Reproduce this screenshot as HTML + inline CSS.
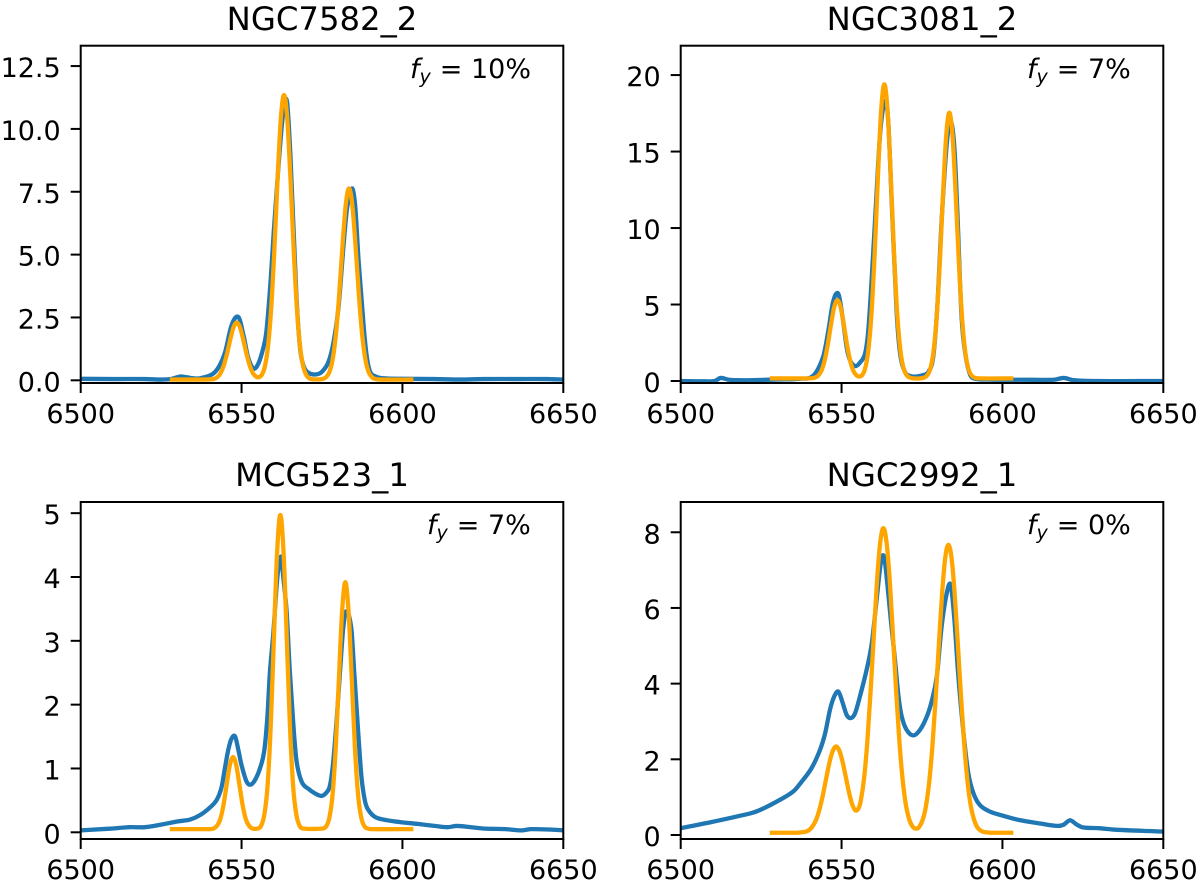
<!DOCTYPE html>
<html lang="en">
<head>
<meta charset="utf-8">
<title>Emission line spectra</title>
<style>
html,body{margin:0;padding:0;background:#fff;width:1200px;height:884px;overflow:hidden}
svg{display:block}
text{font-family:"DejaVu Sans","Liberation Sans",sans-serif;fill:#000}
</style>
</head>
<body>
<svg id="figure" xmlns="http://www.w3.org/2000/svg" width="1200" height="884" viewBox="0 0 1200 884"></svg>
<script>
const xTickValues = [6500, 6550, 6600, 6650];
const xDomain = [6500, 6650];

const titles = ['NGC7582_2', 'NGC3081_2', 'MCG523_1', 'NGC2992_1'];
const fractions = ['10%', '7%', '7%', '0%'];

const yTickValuesA = [0, 2.5, 5, 7.5, 10, 12.5];
const yTickLabelsA = ['0.0', '2.5', '5.0', '7.5', '10.0', '12.5'];
const yTickValuesB = [0, 5, 10, 15, 20];
const yTickLabelsB = ['0', '5', '10', '15', '20'];
const yTickValuesC = [0, 1, 2, 3, 4, 5];
const yTickLabelsC = ['0', '1', '2', '3', '4', '5'];
const yTickValuesD = [0, 2, 4, 6, 8];
const yTickLabelsD = ['0', '2', '4', '6', '8'];

const yDomainA = [-0.107, 13.31];
const yDomainB = [-0.13, 21.92];
const yDomainC = [-0.105, 5.175];
const yDomainD = [-0.106, 8.8];

const observedWaveA = [6500,6510,6520,6525,6528,6531,6533,6535,6537,6541,6543,6544.9,6546.9,6549,6550.6,6552,6553.7,6555.2,6556.7,6557.7,6559,6560,6561.4,6562.9,6564.1,6565.2,6567,6568.2,6569.4,6570.8,6572.8,6574.9,6577,6578.6,6580.1,6581.7,6582.8,6584.3,6585.3,6586.4,6588,6589,6590,6591.7,6594,6600,6610,6618,6625,6635,6645,6650];
const observedFluxA = [0.06,0.05,0.05,0.03,0.05,0.15,0.12,0.08,0.08,0.25,0.55,1.13,2.19,2.52,1.79,0.93,0.47,0.66,1.26,1.92,3.9,5.9,8.4,10.6,11.1,8.9,3.5,1.26,0.53,0.3,0.23,0.33,0.73,1.53,2.86,5.37,6.85,7.63,6.96,4.7,2.07,0.87,0.33,0.15,0.08,0.06,0.05,0.03,0.05,0.05,0.05,0.03];
const modelWaveA = [6527.7,6538,6540.5,6541.5,6542.5,6543.5,6544.5,6545.5,6546.5,6547.5,6548.5,6549.5,6550.5,6551.5,6552.5,6553.5,6554.5,6555.2,6556.2,6557.2,6558.2,6559.2,6560.2,6561.2,6562.2,6563.2,6564.2,6565.2,6566.2,6567.2,6568.2,6569.2,6570.2,6571.2,6572.2,6574.4,6575.4,6576.4,6577.4,6578.4,6579.4,6580.4,6581.4,6582.4,6583.4,6584.4,6585.4,6586.4,6587.4,6588.4,6589.4,6590.4,6591.4,6593,6603.4];
const modelFluxA = [0.03,0.03,0.04,0.06,0.13,0.29,0.60,1.07,1.63,2.11,2.30,2.11,1.63,1.07,0.60,0.29,0.15,0.12,0.20,0.53,1.32,2.85,5.21,8.02,10.41,11.35,10.41,8.02,5.21,2.85,1.32,0.53,0.19,0.07,0.04,0.04,0.06,0.14,0.36,0.90,1.92,3.51,5.40,7.00,7.63,7.00,5.40,3.51,1.92,0.90,0.36,0.14,0.06,0.03,0.03];

const observedWaveB = [6500,6508,6510.5,6512.5,6515,6520,6530,6537,6541.2,6544.3,6545.9,6547.4,6549,6550.3,6551.6,6552.6,6554.2,6555.7,6557.3,6558.3,6559.4,6560.7,6562,6563.5,6564.5,6565.6,6567.1,6568.2,6569.7,6571.3,6573.3,6575.4,6577,6578.5,6579.8,6581.1,6582.7,6583.9,6585.05,6586,6587.3,6588.6,6590,6591.5,6595,6610,6616,6619,6622,6630,6650];
const observedFluxB = [0.0,-0.02,0.0,0.2,0.08,0.05,0.1,0.15,0.35,1.6,3.3,5.2,5.7,4.2,2.2,1.37,0.98,1.2,1.8,3.3,6.8,11.6,16.2,18.3,17.0,11.6,4.6,1.8,0.6,0.33,0.29,0.39,0.6,1.6,5.0,10.5,15.5,17.0,15.3,11.0,4.2,1.6,0.39,0.15,0.1,0.08,0.08,0.2,0.06,0.0,0.0];
const modelWaveB = [6527.7,6538,6540.7,6541.7,6542.7,6543.7,6544.7,6545.7,6546.7,6547.7,6548.7,6549.7,6550.7,6551.7,6552.7,6553.7,6554.7,6555.3,6556.3,6557.3,6558.3,6559.3,6560.3,6561.3,6562.3,6563.3,6564.3,6565.3,6566.3,6567.3,6568.3,6569.3,6570.3,6571.3,6572.3,6574.5,6575.5,6576.5,6577.5,6578.5,6579.5,6580.5,6581.5,6582.5,6583.5,6584.5,6585.5,6586.5,6587.5,6588.5,6589.5,6590.5,6591.5,6593,6603.4];
const modelFluxB = [0.17,0.17,0.18,0.22,0.34,0.65,1.30,2.36,3.68,4.83,5.29,4.83,3.68,2.36,1.30,0.65,0.36,0.30,0.36,0.80,1.98,4.40,8.38,13.34,17.67,19.40,17.67,13.34,8.38,4.40,1.98,0.80,0.36,0.22,0.17,0.17,0.21,0.34,0.74,1.80,3.99,7.59,12.07,15.98,17.54,15.98,12.07,7.59,3.99,1.80,0.74,0.34,0.21,0.17,0.17];

const observedWaveC = [6500,6510,6515,6520,6525,6530,6534,6537.1,6540.2,6542.3,6543.8,6544.8,6545.9,6546.9,6548,6549,6550,6551.6,6553,6554.4,6555.7,6557,6558,6558.8,6559.9,6561.1,6562.2,6563,6564,6565,6566.1,6567.1,6568.7,6570.8,6572.8,6574.9,6576.5,6577.5,6578.5,6579.6,6580.6,6581.6,6582.5,6584.1,6585,6586.3,6587.3,6588.4,6589.4,6591.5,6595.1,6599.3,6605,6610,6614,6617,6625,6632,6637,6640,6647,6650];
const observedFluxC = [0.03,0.06,0.08,0.08,0.12,0.17,0.2,0.27,0.39,0.51,0.71,1.0,1.3,1.47,1.5,1.29,1.05,0.79,0.75,0.84,1.0,1.26,1.79,2.5,3.14,3.98,4.32,3.98,3.46,2.52,1.68,1.11,0.79,0.68,0.61,0.57,0.63,0.74,1.11,1.79,2.52,3.2,3.46,3.2,2.52,1.53,0.85,0.48,0.35,0.24,0.19,0.16,0.13,0.1,0.08,0.1,0.06,0.05,0.03,0.05,0.04,0.03];
const modelWaveC = [6527.7,6538,6540.35,6541.35,6542.35,6543.35,6544.35,6545.35,6546.35,6547.35,6548.35,6549.35,6550.35,6551.35,6552.35,6553.35,6555.05,6556.05,6557.05,6558.05,6559.05,6560.05,6561.05,6562.05,6563.05,6564.05,6565.05,6566.05,6567.05,6568.05,6569.05,6575.25,6576.25,6577.25,6578.25,6579.25,6580.25,6581.25,6582.25,6583.25,6584.25,6585.25,6586.25,6587.25,6588.25,6589.25,6590.25,6603.4];
const modelFluxC = [0.05,0.05,0.05,0.06,0.10,0.20,0.42,0.74,1.05,1.18,1.05,0.74,0.42,0.20,0.10,0.06,0.06,0.10,0.27,0.71,1.65,3.04,4.39,4.97,4.39,3.04,1.65,0.71,0.27,0.10,0.06,0.06,0.09,0.22,0.57,1.31,2.40,3.46,3.92,3.46,2.40,1.31,0.57,0.22,0.09,0.06,0.05,0.05];

const observedWaveD = [6500,6510,6522,6524.65,6529.8,6535,6537.6,6540.7,6543.3,6544.9,6546.4,6547.7,6549,6550.2,6551.6,6552.9,6554.2,6555.7,6557.8,6559.4,6560.9,6562.2,6563.2,6564.2,6565.3,6566.6,6567.7,6568.7,6570.2,6572.3,6574.4,6576.5,6578,6579.6,6581.1,6582.7,6583.9,6585,6586.3,6587.9,6589.4,6591,6593,6596.1,6599.3,6605,6612,6617,6619,6621,6623,6625,6630,6635,6650];
const observedFluxD = [0.18,0.35,0.58,0.66,0.88,1.15,1.41,1.77,2.25,2.69,3.31,3.66,3.79,3.53,3.17,3.09,3.22,3.66,4.37,5.07,6.22,7.19,7.36,6.66,5.69,4.63,3.66,3.13,2.78,2.63,2.78,3.13,3.53,4.19,5.51,6.39,6.61,5.77,4.19,2.69,1.63,1.1,0.79,0.62,0.53,0.4,0.3,0.24,0.27,0.39,0.28,0.2,0.18,0.14,0.09];
const modelWaveD = [6527.7,6534.3,6536.3,6537.3,6538.3,6539.3,6540.3,6541.3,6542.3,6543.3,6544.3,6545.3,6546.3,6547.3,6548.3,6549.3,6550.3,6551.3,6552.3,6553.3,6554.3,6555.3,6556,6557,6558,6559,6560,6561,6562,6563,6564,6565,6566,6567,6568,6569,6570,6571,6572,6573,6574,6575.2,6576.2,6577.2,6578.2,6579.2,6580.2,6581.2,6582.2,6583.2,6584.2,6585.2,6586.2,6587.2,6588.2,6589.2,6590.2,6591.2,6592.2,6593.2,6594.2,6595.2,6596.2,6603.4];
const modelFluxD = [0.06,0.06,0.06,0.07,0.08,0.10,0.16,0.27,0.45,0.73,1.10,1.53,1.94,2.23,2.34,2.23,1.94,1.54,1.13,0.81,0.65,0.71,0.92,1.50,2.46,3.76,5.24,6.69,7.72,8.11,7.72,6.69,5.24,3.75,2.44,1.45,0.79,0.42,0.23,0.17,0.20,0.40,0.75,1.37,2.31,3.55,4.96,6.32,7.31,7.67,7.31,6.32,4.96,3.55,2.31,1.37,0.75,0.40,0.20,0.12,0.08,0.07,0.06,0.06];

const SVG_NS = 'http://www.w3.org/2000/svg';
const figure = document.getElementById('figure');

function make(tag, attrs, parent, content) {
  const el = document.createElementNS(SVG_NS, tag);
  Object.keys(attrs).forEach(function (k) { el.setAttribute(k, attrs[k]); });
  if (content !== undefined) el.textContent = content;
  parent.appendChild(el);
  return el;
}

function linearScale(domain, range) {
  return function (v) {
    return range[0] + (v - domain[0]) / (domain[1] - domain[0]) * (range[1] - range[0]);
  };
}

function smoothPath(xs, ys, sx, sy) {
  const pts = xs.map(function (x, i) { return [sx(x), sy(ys[i])]; });
  let d = 'M' + pts[0][0].toFixed(2) + ' ' + pts[0][1].toFixed(2);
  for (let i = 0; i < pts.length - 1; i++) {
    const p0 = pts[Math.max(i - 1, 0)];
    const p1 = pts[i];
    const p2 = pts[i + 1];
    const p3 = pts[Math.min(i + 2, pts.length - 1)];
    const span = (p2[0] - p1[0]);
    const m1 = (p2[1] - p0[1]) / Math.max(p2[0] - p0[0], 0.01);
    const m2 = (p3[1] - p1[1]) / Math.max(p3[0] - p1[0], 0.01);
    d += 'C' + (p1[0] + span / 3).toFixed(2) + ' ' + (p1[1] + m1 * span / 3).toFixed(2) + ' ' +
         (p2[0] - span / 3).toFixed(2) + ' ' + (p2[1] - m2 * span / 3).toFixed(2) + ' ' +
         p2[0].toFixed(2) + ' ' + p2[1].toFixed(2);
  }
  return d;
}

function drawPanel(p, index) {
  const sx = linearScale(xDomain, [p.left, p.right]);
  const sy = linearScale(p.yDomain, [p.bottom, p.top]);

  const group = make('g', {}, figure);
  
  

  const clip = make('clipPath', { id: 'clip-' + index }, group);
  make('rect', { x: p.left, y: p.top, width: p.right - p.left, height: p.bottom - p.top }, clip);

  const observed = make('path', {
    d: smoothPath(p.obsX, p.obsY, sx, sy),
    fill: 'none', stroke: '#1f77b4', 'stroke-width': 4.3,
    'stroke-linejoin': 'round', 'stroke-linecap': 'butt',
    'clip-path': 'url(#clip-' + index + ')'
  }, group);
  
  

  const model = make('path', {
    d: smoothPath(p.modX, p.modY, sx, sy),
    fill: 'none', stroke: '#ffa500', 'stroke-width': 4.3,
    'stroke-linejoin': 'round', 'stroke-linecap': 'butt',
    'clip-path': 'url(#clip-' + index + ')'
  }, group);
  
  

  const frame = make('rect', {
    x: p.left, y: p.top, width: p.right - p.left, height: p.bottom - p.top,
    fill: 'none', stroke: '#000', 'stroke-width': 2
  }, group);
  
  

  xTickValues.forEach(function (v) {
    const tick = make('line', {
      x1: sx(v), x2: sx(v), y1: p.bottom, y2: p.bottom + 10, stroke: '#000', 'stroke-width': 2
    }, group);
    
    
    const label = make('text', {
      x: sx(v), y: p.bottom + 40, 'text-anchor': 'middle', 'font-size': 27
    }, group, String(v));
    
    
  });

  p.yTicks.forEach(function (v, i) {
    const tick = make('line', {
      x1: p.left - 10, x2: p.left, y1: sy(v), y2: sy(v), stroke: '#000', 'stroke-width': 2
    }, group);
    
    
    const label = make('text', {
      x: p.left - 20, y: sy(v) + 11, 'text-anchor': 'end', 'font-size': 27
    }, group, p.yLabels[i]);
    
    
  });

  const title = make('text', {
    x: (p.left + p.right) / 2, y: p.titleY, 'text-anchor': 'middle', 'font-size': 32.3
  }, group, p.title);
  
  

  const note = make('text', { x: p.noteX, y: p.noteY, 'font-size': 27 }, group);
  
  
  make('tspan', { 'font-style': 'italic' }, note, 'f');
  make('tspan', { 'font-style': 'italic', 'font-size': 19, dy: 5 }, note, 'y');
  make('tspan', { dy: -5, dx: 9 }, note, '= ' + p.fraction);
}

const panels = [
  { title: titles[0], fraction: fractions[0], left: 80.7, right: 563.3, top: 45.7, bottom: 383, titleY: 30, noteX: 410, noteY: 78,
    yDomain: yDomainA, yTicks: yTickValuesA, yLabels: yTickLabelsA, obsX: observedWaveA, obsY: observedFluxA, modX: modelWaveA, modY: modelFluxA },
  { title: titles[1], fraction: fractions[1], left: 680.7, right: 1163.3, top: 45.7, bottom: 383, titleY: 30, noteX: 1027, noteY: 78,
    yDomain: yDomainB, yTicks: yTickValuesB, yLabels: yTickLabelsB, obsX: observedWaveB, obsY: observedFluxB, modX: modelWaveB, modY: modelFluxB },
  { title: titles[2], fraction: fractions[2], left: 80.7, right: 563.3, top: 502, bottom: 839, titleY: 486, noteX: 427, noteY: 534,
    yDomain: yDomainC, yTicks: yTickValuesC, yLabels: yTickLabelsC, obsX: observedWaveC, obsY: observedFluxC, modX: modelWaveC, modY: modelFluxC },
  { title: titles[3], fraction: fractions[3], left: 680.7, right: 1163.3, top: 502, bottom: 839, titleY: 486, noteX: 1027, noteY: 534,
    yDomain: yDomainD, yTicks: yTickValuesD, yLabels: yTickLabelsD, obsX: observedWaveD, obsY: observedFluxD, modX: modelWaveD, modY: modelFluxD }
];

panels.forEach(drawPanel);
</script>
</body>
</html>
